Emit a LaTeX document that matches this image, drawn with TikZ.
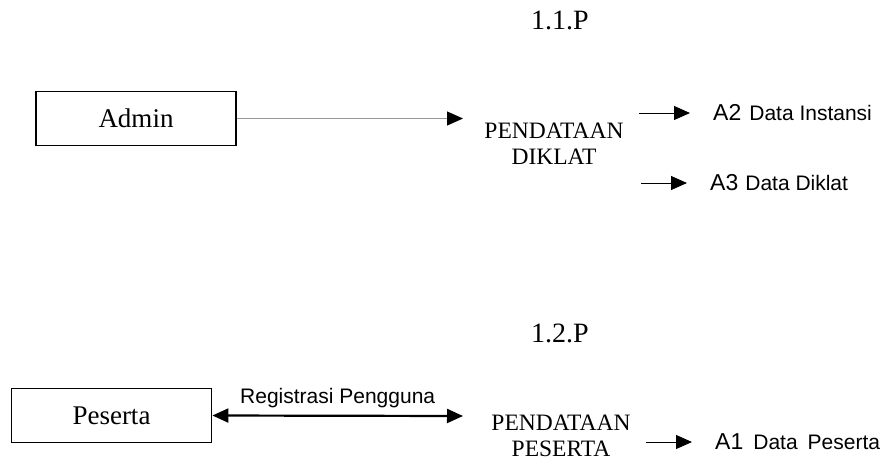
\documentclass[tikz,border=0pt]{standalone}
\usepackage{fontspec}
\setmainfont{Liberation Serif}
\setsansfont{Liberation Sans}
\usetikzlibrary{arrows.meta}

\tikzset{
  >={Triangle[length=16pt,width=14pt,color=black]},
  entity/.style={draw, line width=1.8pt, minimum width=200pt, minimum height=54pt,
    inner sep=0pt, font=\fontsize{27}{30}\selectfont},
  proc/.style={align=center, inner sep=0pt, font=\fontsize{23.5}{25.5}\selectfont},
  procid/.style={inner sep=0pt, font=\fontsize{28}{30}\selectfont},
  store/.style={anchor=west, inner sep=0pt, font=\sffamily\fontsize{21}{24}\selectfont},
  flow/.style={->, line width=1pt, shorten >=23pt},
}
\newcommand{\storeid}[1]{{\fontsize{23}{24}\selectfont #1}}

\begin{document}
\begin{tikzpicture}[x=1pt, y=-1pt]
\useasboundingbox (0,0) rectangle (889,461);

% Coordinates of the free arrow ends
\coordinate (in11) at (463,118.5);
\coordinate (in12) at (463,416);
\coordinate (o2) at (639,113);
\coordinate (o3) at (641,183);
\coordinate (o1) at (646,442);

%%%%%%%%%% Process 1.1.P %%%%%%%%%%
\node[procid] (id11) at (560,20) {1.1.P};
\node[proc] (p11) at (554,144) {PENDATAAN\\DIKLAT};
\node[entity] (admin) at (136,118.5) {Admin};
\node[store] (a2) at (713,113) {\storeid{A2}\hspace{8pt}Data Instansi};
\node[store] (a3) at (710,183) {\storeid{A3}\hspace{7pt}Data Diklat};

\draw[->, line width=1.1pt, black!40] (admin.east) -- (in11);
\draw[flow] (o2) -- (a2.west);
\draw[flow] (o3) -- (a3.west);

%%%%%%%%%% Process 1.2.P %%%%%%%%%%
\node[procid] (id12) at (560,333) {1.2.P};
\node[proc] (p12) at (561,436) {PENDATAAN\\PESERTA};
\node[entity] (peserta) at (111.5,415.5) {Peserta};
\node[store] (a1) at (715,442) {\storeid{A1}\hspace{10pt}Data\hspace{10pt}Peserta};

\draw[<->, line width=2.2pt]
  (peserta.east) -- (in12)
  node[midway, above=3pt, font=\sffamily\fontsize{21}{24}\selectfont] {Registrasi Pengguna};
\draw[flow] (o1) -- (a1.west);

\end{tikzpicture}
\end{document}
